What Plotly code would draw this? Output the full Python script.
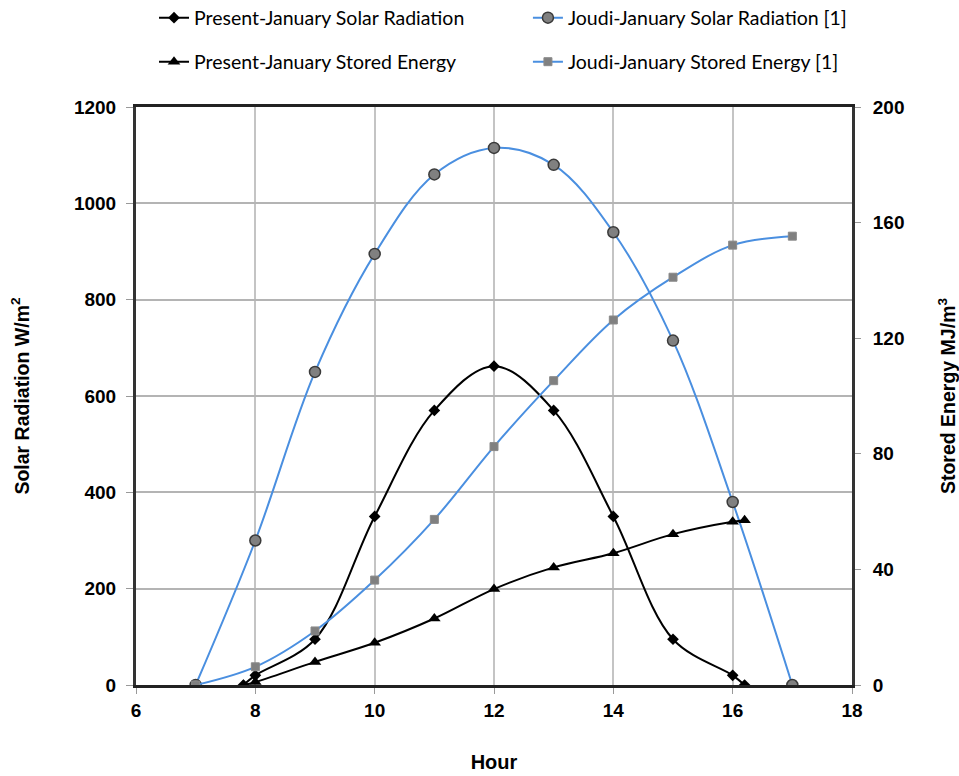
import plotly.graph_objects as go

# Hourly January profiles
present_hours = [7.8, 8, 9, 10, 11, 12, 13, 14, 15, 16, 16.2]
present_radiation = [0, 20, 95, 350, 570, 662, 570, 350, 95, 20, 0]      # W/m2
present_stored = [0, 1, 8, 14.6, 23, 33.2, 40.7, 45.6, 52.2, 56.5, 57]  # MJ/m3

joudi_hours = [7, 8, 9, 10, 11, 12, 13, 14, 15, 16, 17]
joudi_radiation = [0, 300, 650, 895, 1060, 1115, 1080, 940, 715, 380, 0]  # W/m2
joudi_stored = [0, 6.3, 18.7, 36.3, 57.3, 82.5, 105.3, 126.3, 141.1, 152.2, 155.3]  # MJ/m3

x_ticks = [6, 8, 10, 12, 14, 16, 18]
y_ticks = [0, 200, 400, 600, 800, 1000, 1200]
y2_ticks = [0, 40, 80, 120, 160, 200]

BLUE = "#4a8fe0"
BLACK = "#000000"
AXIS_FONT = dict(family="Liberation Sans, Arial, sans-serif", size=19, color="#000")
LEGEND_FONT = dict(family="Lato, Noto Sans, sans-serif", size=19.5, color="#000")

fig = go.Figure()

fig.add_trace(go.Scatter(
    x=present_hours, y=present_radiation, name="Present-January Solar Radiation",
    mode="lines+markers", line=dict(color=BLACK, width=2, shape="spline", smoothing=1),
    marker=dict(symbol="diamond", size=9, color=BLACK), legend="legend"))

fig.add_trace(go.Scatter(
    x=joudi_hours, y=joudi_radiation, name="Joudi-January Solar Radiation [1]",
    mode="lines+markers", line=dict(color=BLUE, width=2, shape="spline", smoothing=1),
    marker=dict(symbol="circle", size=11, color="#808080",
                line=dict(color="#3a3a3a", width=1.5)), legend="legend2"))

fig.add_trace(go.Scatter(
    x=present_hours, y=present_stored, name="Present-January Stored Energy",
    mode="lines+markers", yaxis="y2",
    line=dict(color=BLACK, width=2, shape="spline", smoothing=1),
    marker=dict(symbol="triangle-up", size=11, color=BLACK), legend="legend3"))

fig.add_trace(go.Scatter(
    x=joudi_hours, y=joudi_stored, name="Joudi-January Stored Energy [1]",
    mode="lines+markers", yaxis="y2",
    line=dict(color=BLUE, width=2, shape="spline", smoothing=1),
    marker=dict(symbol="square", size=8, color="#808080",
                line=dict(color="#8a8a8a", width=1)), legend="legend4"))

# Four single-entry legends laid out as a 2x2 grid above the plot
legend_common = dict(orientation="h", font=LEGEND_FONT, bgcolor="rgba(0,0,0,0)",
                     xref="container", yref="container",
                     xanchor="left", yanchor="middle", itemclick=False)
col_left, col_right = 0.1606, 0.5505
row_top, row_bottom = 0.9768, 0.9201

fig.update_layout(
    width=959, height=776,
    margin=dict(l=136, r=107, t=107, b=91, autoexpand=False),
    paper_bgcolor="white", plot_bgcolor="white",
    showlegend=True,
    legend=dict(x=col_left, y=row_top, **legend_common),
    legend2=dict(x=col_right, y=row_top, **legend_common),
    legend3=dict(x=col_left, y=row_bottom, **legend_common),
    legend4=dict(x=col_right, y=row_bottom, **legend_common),
    xaxis=dict(
        range=[6, 18], tickvals=x_ticks, ticktext=[str(v) for v in x_ticks],
        showgrid=True, gridcolor="#c4c4c4", gridwidth=1.5,
        showline=True, linecolor="#222", linewidth=3, mirror=True,
        ticks="outside", ticklen=6, tickcolor="#999", tickwidth=1,
        tickfont=dict(AXIS_FONT, weight="bold"), zeroline=False, automargin=False,
        title=dict(text="<b>Hour</b>", font=dict(AXIS_FONT, size=20), standoff=36),
    ),
    yaxis=dict(
        range=[0, 1200], tickvals=y_ticks,
        showgrid=True, gridcolor="#b4b4b4", gridwidth=1.5,
        showline=True, linecolor="#333", linewidth=3,
        ticks="outside", ticklen=7, tickcolor="#999", tickwidth=1,
        ticklabelstandoff=6, automargin=False,
        tickfont=dict(AXIS_FONT, weight="bold"), zeroline=False,
        title=dict(text="<b>Solar Radiation W/m<sup>2</sup></b>",
                   font=dict(AXIS_FONT, size=19.5), standoff=40),
    ),
    yaxis2=dict(
        range=[0, 200], tickvals=y2_ticks, overlaying="y", side="right",
        showgrid=False, showline=True, linecolor="#333", linewidth=3,
        ticks="outside", ticklen=6, tickcolor="#999", tickwidth=1,
        ticklabelstandoff=8, automargin=False,
        tickfont=dict(AXIS_FONT, weight="bold"), zeroline=False,
        title=dict(text="<b>Stored Energy MJ/m<sup>3</sup></b>",
                   font=dict(AXIS_FONT, size=19.5), standoff=40),
    ),
)

fig.write_html("out.html")
